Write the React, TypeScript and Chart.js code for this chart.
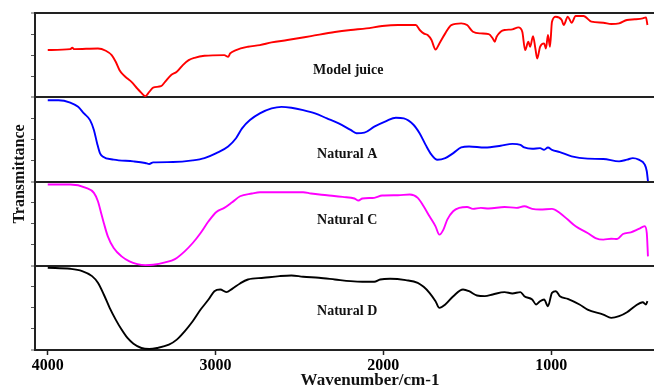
import React, { useEffect, useRef } from "react";
import { Chart, registerables } from "chart.js";

Chart.register(...registerables);

const FONT = "'Liberation Serif', 'Times New Roman', Times, serif";

// x tick labels (wavenumber, cm-1)
const xTickValues = [1000, 2000, 3000, 4000];

// Model juice (red)
const modelJuiceWn = [4000, 3866, 3854, 3842, 3701, 3654, 3619, 3595, 3572, 3548, 3525, 3501, 3466, 3442, 3419, 3395, 3372, 3325, 3301, 3266, 3231, 3195, 3160, 3125, 3066, 2948, 2925, 2913, 2878, 2807, 2736, 2666, 2572, 2431, 2289, 2195, 2101, 2007, 1913, 1807, 1783, 1760, 1736, 1713, 1689, 1666, 1631, 1595, 1536, 1501, 1466, 1419, 1372, 1348, 1336, 1325, 1301, 1278, 1231, 1195, 1172, 1155, 1136, 1125, 1108, 1094, 1083, 1066, 1042, 1031, 1019, 1007, 995, 972, 937, 925, 901, 878, 854, 807, 760, 689, 642, 595, 548, 501, 454, 435, 426];
const modelJuiceT = [56.0, 57.1, 58.7, 57.1, 57.9, 55.2, 50.0, 42.1, 32.1, 26.2, 22.2, 18.3, 10.3, 5.2, 1.2, 6.3, 11.5, 13.1, 18.3, 26.2, 30.2, 38.1, 44.0, 46.8, 49.2, 50.0, 48.0, 52.0, 56.0, 59.9, 61.9, 65.1, 67.9, 72.6, 77.4, 79.8, 81.7, 84.5, 85.7, 85.7, 79.8, 75.8, 73.8, 67.9, 56.7, 63.9, 75.8, 85.7, 87.7, 85.7, 77.8, 75.8, 75.0, 69.8, 65.9, 71.8, 77.8, 79.8, 80.6, 82.9, 77.8, 56.0, 65.9, 59.9, 72.6, 57.9, 46.0, 59.9, 63.9, 57.9, 73.8, 59.9, 89.7, 95.6, 91.7, 85.7, 95.6, 88.5, 96.4, 96.4, 89.7, 88.5, 86.9, 87.7, 91.7, 92.5, 93.7, 94.8, 85.7];

// Natural A (blue)
const naturalAWn = [4000, 3936, 3866, 3819, 3784, 3748, 3725, 3706, 3689, 3673, 3607, 3489, 3419, 3395, 3372, 3254, 3136, 3066, 2995, 2925, 2878, 2842, 2795, 2736, 2666, 2607, 2548, 2478, 2407, 2336, 2266, 2195, 2160, 2113, 2054, 1983, 1925, 1878, 1819, 1784, 1748, 1713, 1678, 1631, 1583, 1536, 1489, 1395, 1301, 1231, 1183, 1160, 1113, 1066, 1042, 1019, 995, 948, 878, 783, 689, 595, 548, 513, 478, 442, 430, 423];
const naturalAT = [96.5, 96.5, 93.7, 88.6, 80.8, 72.9, 61.2, 45.5, 33.7, 29.8, 25.9, 23.9, 22.0, 20.8, 22.7, 23.1, 25.1, 27.8, 33.7, 41.6, 51.4, 63.1, 72.9, 80.8, 86.7, 88.6, 87.5, 84.7, 80.8, 74.9, 69.0, 61.2, 57.3, 58.0, 65.1, 71.8, 75.7, 74.9, 67.1, 57.3, 43.5, 31.8, 25.9, 27.8, 33.7, 40.4, 41.6, 40.4, 42.4, 44.7, 43.5, 40.4, 38.8, 39.6, 37.6, 40.4, 37.6, 34.9, 29.8, 27.1, 26.7, 23.9, 25.9, 27.8, 25.9, 20.0, 12.2, 0.5];

// Natural C (magenta)
const naturalCWn = [4000, 3866, 3772, 3725, 3701, 3682, 3666, 3642, 3607, 3560, 3513, 3466, 3419, 3372, 3301, 3242, 3184, 3136, 3089, 3042, 2995, 2948, 2901, 2854, 2783, 2736, 2619, 2478, 2431, 2336, 2242, 2172, 2148, 2125, 2054, 2007, 1913, 1842, 1795, 1760, 1725, 1689, 1666, 1642, 1619, 1584, 1548, 1501, 1466, 1419, 1372, 1278, 1207, 1160, 1113, 1066, 995, 948, 901, 854, 783, 736, 689, 642, 607, 572, 525, 478, 442, 430, 423];
const naturalCT = [96.4, 96.4, 92.5, 86.5, 76.6, 62.7, 50.8, 34.9, 21.0, 11.1, 5.2, 2.0, 0.8, 1.2, 4.0, 7.9, 17.1, 27.0, 38.9, 52.8, 63.9, 68.7, 75.4, 82.5, 85.7, 87.3, 87.3, 87.3, 85.7, 83.7, 81.7, 79.8, 77.4, 79.8, 80.6, 83.3, 83.7, 84.5, 80.6, 70.6, 58.7, 46.8, 36.9, 42.9, 54.8, 64.7, 68.7, 69.8, 67.5, 68.7, 67.9, 69.8, 68.7, 70.6, 67.5, 66.7, 67.5, 62.7, 54.8, 46.8, 38.9, 32.9, 31.0, 32.1, 31.7, 37.7, 39.7, 43.7, 46.8, 38.9, 11.1];

// Natural D (black)
const naturalDWn = [4000, 3866, 3795, 3736, 3701, 3666, 3631, 3595, 3560, 3525, 3489, 3442, 3395, 3348, 3278, 3231, 3184, 3136, 3089, 3042, 3007, 2972, 2936, 2901, 2854, 2807, 2713, 2619, 2548, 2478, 2384, 2289, 2195, 2125, 2054, 2019, 1960, 1866, 1795, 1760, 1725, 1689, 1666, 1631, 1583, 1525, 1489, 1442, 1395, 1348, 1278, 1231, 1183, 1160, 1113, 1089, 1066, 1042, 1019, 995, 972, 948, 901, 831, 783, 689, 642, 595, 548, 501, 454, 435, 426];
const naturalDT = [97.6, 96.4, 93.7, 87.7, 79.8, 65.9, 50.0, 36.1, 24.2, 14.3, 7.5, 2.4, 1.2, 2.4, 6.3, 12.3, 22.2, 34.1, 48.0, 59.9, 69.8, 71.8, 68.7, 72.6, 79.0, 83.7, 85.7, 87.7, 88.5, 86.9, 85.7, 83.7, 81.7, 81.0, 81.0, 83.7, 84.5, 82.9, 79.8, 75.0, 67.9, 57.9, 50.0, 54.0, 63.9, 71.8, 69.8, 64.7, 63.9, 65.9, 68.7, 67.1, 68.7, 63.9, 59.9, 54.0, 57.9, 59.9, 52.0, 67.9, 69.8, 63.9, 60.7, 54.0, 48.0, 42.1, 38.1, 40.1, 44.8, 52.0, 56.7, 54.0, 57.9];

const seriesNames = ["Model juice", "Natural A", "Natural C", "Natural D"];

export default function App() {
  const ref = useRef<HTMLCanvasElement>(null);

  useEffect(() => {
    const canvas = ref.current;
    if (!canvas) return;

    const series = [
      { wn: modelJuiceWn, t: modelJuiceT, color: "#ff0000", offset: 3 },
      { wn: naturalAWn, t: naturalAT, color: "#0000ff", offset: 2 },
      { wn: naturalCWn, t: naturalCT, color: "#ff00ff", offset: 1 },
      { wn: naturalDWn, t: naturalDT, color: "#000000", offset: 0 },
    ];

    const datasets = series.map((s, i) => ({
      label: seriesNames[i],
      data: s.wn.map((x, j) => ({ x, y: s.offset + s.t[j] / 100 })),
      borderColor: s.color,
      backgroundColor: s.color,
      borderWidth: 1.9,
      pointRadius: 0,
      cubicInterpolationMode: "monotone",
      fill: false,
    }));

    const labelPos = [
      { wn: 2419, y: 3.321 },
      { wn: 2395, y: 2.318 },
      { wn: 2395, y: 1.536 },
      { wn: 2395, y: 0.464 },
    ];

    const textPlugin = {
      id: "ftirText",
      afterDraw(chart: any) {
        const { ctx, scales } = chart;
        const xs = scales.x;
        const ys = scales.y;
        ctx.save();
        ctx.fillStyle = "#111";
        ctx.font = `bold 14px ${FONT}`;
        ctx.textAlign = "left";
        ctx.textBaseline = "middle";
        seriesNames.forEach((name, i) => {
          ctx.fillText(name, xs.getPixelForValue(labelPos[i].wn), ys.getPixelForValue(labelPos[i].y));
        });
        // y title
        ctx.save();
        ctx.font = `bold 16px ${FONT}`;
        ctx.textAlign = "center";
        ctx.textBaseline = "middle";
        ctx.translate(20, 174);
        ctx.rotate(-Math.PI / 2);
        ctx.fillText("Transmittance", 0, 0);
        ctx.restore();
        // x title
        ctx.font = `bold 17px ${FONT}`;
        ctx.textAlign = "center";
        ctx.textBaseline = "alphabetic";
        ctx.fillText("Wavenumber/cm-1", 370, 385);
        ctx.restore();
      },
    };

    const chart = new Chart(canvas, {
      type: "line",
      data: { datasets } as any,
      options: {
        animation: false,
        responsive: false,
        devicePixelRatio: 1,
        layout: { padding: { top: 13, left: 0, right: 0, bottom: 0 } },
        plugins: { legend: { display: false }, tooltip: { enabled: false } },
        scales: {
          x: {
            type: "linear",
            min: 387,
            max: 4076,
            reverse: true,
            afterBuildTicks: (s: any) => {
              s.ticks = xTickValues.map((v) => ({ value: v }));
            },
            afterFit: (s: any) => {
              s.height = 35;
            },
            grid: {
              drawOnChartArea: false,
              drawTicks: true,
              tickLength: 5,
              tickColor: "#222",
              tickWidth: 1.5,
            },
            border: { color: "#222", width: 2 },
            ticks: {
              font: { family: FONT, size: 16, weight: "bold" },
              color: "#000",
              padding: 1,
              maxRotation: 0,
              autoSkip: false,
              callback: (v: any) => String(v),
            },
          },
          y: {
            type: "linear",
            min: 0,
            max: 4,
            afterBuildTicks: (s: any) => {
              const t = [];
              for (let i = 0; i <= 16; i++) t.push({ value: i * 0.25 });
              s.ticks = t;
            },
            afterFit: (s: any) => {
              s.width = 35;
            },
            ticks: { display: false },
            grid: {
              color: (c: any) =>
                c.tick && Number.isInteger(c.tick.value) ? "#222" : "rgba(0,0,0,0)",
              lineWidth: (c: any) => (c.tick && Number.isInteger(c.tick.value) ? 2 : 1),
              drawTicks: true,
              tickLength: 4,
              tickColor: "#555",
              tickWidth: 1,
            },
            border: { color: "#222", width: 2 },
          },
        },
      } as any,
      plugins: [textPlugin],
    });

    return () => chart.destroy();
  }, []);

  return (
    <div
      style={{
        position: "fixed",
        left: 0,
        top: 0,
        width: 654,
        height: 385,
        background: "#fff",
        overflow: "hidden",
      }}
    >
      <canvas ref={ref} width={654} height={385} style={{ display: "block" }} />
    </div>
  );
}
